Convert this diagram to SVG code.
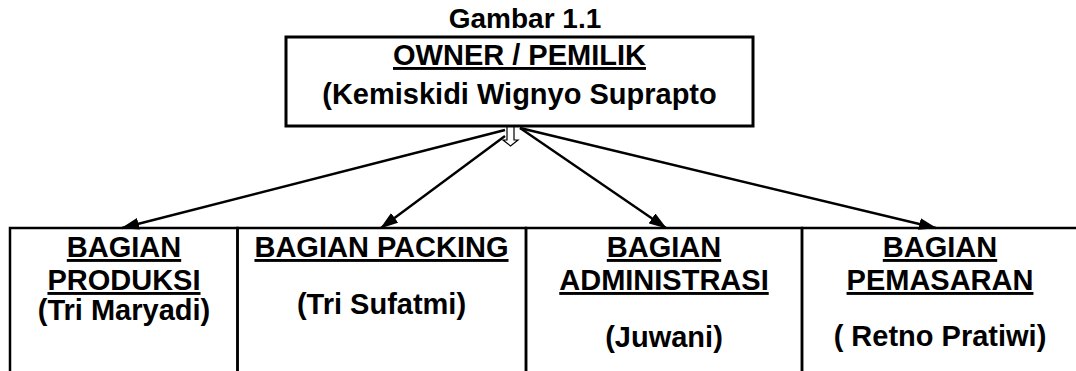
<svg xmlns="http://www.w3.org/2000/svg" width="1076" height="371" viewBox="0 0 1076 371">
<style>
.t{font-family:"Liberation Sans",Arial,sans-serif;font-weight:bold;font-size:29px;fill:#000;text-anchor:middle}
.u{text-decoration:underline}
.box{fill:#fff;stroke:#000;stroke-width:3}
.cell{fill:none;stroke:#000;stroke-width:2.5}
.conn{fill:none;stroke:#000;stroke-width:2.4}
</style>
<defs>
<marker id="ah" markerUnits="userSpaceOnUse" viewBox="0 0 18 12" markerWidth="18" markerHeight="12" refX="17" refY="6" orient="auto">
<path d="M0,0 L18,6 L0,12 z" fill="#000"/>
</marker>
</defs>
<text class="t" x="525" y="28" style="font-size:28px">Gambar 1.1</text>
<g id="connectors">
<line class="conn" x1="505" y1="130" x2="122" y2="228" marker-end="url(#ah)"/>
<line class="conn" x1="505" y1="136" x2="381" y2="228" marker-end="url(#ah)"/>
<line class="conn" x1="520" y1="128" x2="666" y2="228" marker-end="url(#ah)"/>
<line class="conn" x1="520" y1="128" x2="936" y2="228" marker-end="url(#ah)"/>
<polygon points="507,126 514,126 514,140 518,140 510.5,146 503,140 507,140" fill="#fff" stroke="#000" stroke-width="1.2"/>
</g>
<g id="owner">
<rect class="box" x="286" y="37" width="467" height="89"/>
<text class="t u" x="519.5" y="65">OWNER / PEMILIK</text>
<text class="t" x="519.5" y="104">(Kemiskidi Wignyo Suprapto</text>
</g>
<g id="produksi">
<rect class="cell" x="10" y="228" width="227.5" height="170"/>
<text class="t u" x="124" y="257">BAGIAN</text>
<text class="t u" x="124" y="290">PRODUKSI</text>
<text class="t" x="124" y="320">(Tri Maryadi)</text>
</g>
<g id="packing">
<rect class="cell" x="237.5" y="228" width="288.5" height="170"/>
<text class="t u" x="381.5" y="257">BAGIAN PACKING</text>
<text class="t" x="381.5" y="314">(Tri Sufatmi)</text>
</g>
<g id="administrasi">
<rect class="cell" x="526" y="228" width="276" height="170"/>
<text class="t u" x="664" y="257">BAGIAN</text>
<text class="t u" x="664" y="290">ADMINISTRASI</text>
<text class="t" x="664" y="347">(Juwani)</text>
</g>
<g id="pemasaran">
<rect class="cell" x="802" y="228" width="278" height="170"/>
<text class="t u" x="940" y="257">BAGIAN</text>
<text class="t u" x="940" y="290">PEMASARAN</text>
<text class="t" x="940" y="346">( Retno Pratiwi)</text>
</g>
</svg>
